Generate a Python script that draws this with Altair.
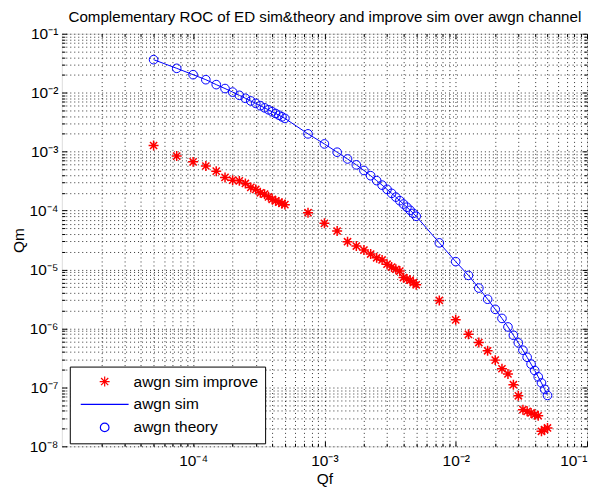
import altair as alt
import pandas as pd

# ---------------- data ----------------
qf = [
    5.0e-5, 7.5e-5, 1.0e-4, 1.25e-4, 1.5e-4, 1.75e-4, 2.0e-4, 2.25e-4, 2.5e-4, 2.75e-4,
    3.0e-4, 3.25e-4, 3.5e-4, 3.75e-4, 4.0e-4, 4.25e-4, 4.5e-4, 4.75e-4, 5.0e-4,
    7.5e-4, 1.0e-3, 1.25e-3, 1.5e-3, 1.75e-3, 2.0e-3, 2.25e-3, 2.5e-3, 2.75e-3,
    3.0e-3, 3.25e-3, 3.5e-3, 3.75e-3, 4.0e-3, 4.25e-3, 4.5e-3, 4.75e-3, 5.0e-3,
    7.5e-3, 1.0e-2, 1.25e-2, 1.5e-2, 1.75e-2, 2.0e-2, 2.25e-2, 2.5e-2, 2.75e-2,
    3.0e-2, 3.25e-2, 3.5e-2, 3.75e-2, 4.0e-2, 4.25e-2, 4.5e-2, 4.75e-2, 5.0e-2,
]

qm_improve = [
    1.27e-3, 8.4e-4, 6.7e-4, 5.7e-4, 4.66e-4, 3.65e-4, 3.28e-4, 3.19e-4, 2.88e-4, 2.47e-4,
    2.28e-4, 2.0e-4, 1.9e-4, 1.71e-4, 1.55e-4, 1.46e-4, 1.39e-4, 1.32e-4, 1.26e-4,
    9.2e-5, 6.07e-5, 4.5e-5, 2.96e-5, 2.5e-5, 2.14e-5, 1.83e-5, 1.58e-5, 1.45e-5,
    1.23e-5, 1.1e-5, 1.01e-5, 9.4e-6, 7.3e-6, 6.9e-6, 6.6e-6, 6.0e-6, 5.5e-6,
    2.99e-6, 1.4e-6, 7.94e-7, 5.77e-7, 4.18e-7, 2.9e-7, 2.07e-7, 1.69e-7, 1.11e-7,
    7.2e-8, 4.19e-8, 3.92e-8, 3.68e-8, 3.44e-8, 3.3e-8, 1.8e-8, 1.92e-8, 2.05e-8,
]

qm_sim = [
    0.0363, 0.0259, 0.0202, 0.0166, 0.0137, 0.01175, 0.01023, 0.00902, 0.00804, 0.00724,
    0.00658, 0.00601, 0.00553, 0.00512, 0.00475, 0.00444, 0.00415, 0.00389, 0.00366,
    0.0020, 0.00135, 0.000977, 0.00075, 0.000596, 0.000479, 0.00039, 0.000322, 0.00027,
    0.000229, 0.000196, 0.000169, 0.000147, 0.000129, 0.000114, 0.000101, 8.95e-5, 8.0e-5,
    2.83e-5, 1.36e-5, 7.94e-6, 4.84e-6, 3.13e-6, 2.11e-6, 1.48e-6, 1.06e-6, 7.67e-7,
    5.69e-7, 4.27e-7, 3.24e-7, 2.48e-7, 1.93e-7, 1.51e-7, 1.19e-7, 9.3e-8, 7.3e-8,
]

qm_theory = [
    0.0363, 0.0259, 0.0202, 0.0166, 0.0137, 0.01175, 0.01023, 0.00902, 0.00804, 0.00724,
    0.00658, 0.00601, 0.00553, 0.00512, 0.00475, 0.00444, 0.00415, 0.00389, 0.00366,
    0.0020, 0.00135, 0.000977, 0.00075, 0.000596, 0.000479, 0.00039, 0.000322, 0.00027,
    0.000229, 0.000196, 0.000169, 0.000147, 0.000129, 0.000114, 0.000101, 8.95e-5, 8.0e-5,
    2.83e-5, 1.36e-5, 7.94e-6, 4.84e-6, 3.13e-6, 2.11e-6, 1.48e-6, 1.06e-6, 7.67e-7,
    5.69e-7, 4.27e-7, 3.24e-7, 2.48e-7, 1.93e-7, 1.51e-7, 1.19e-7, 9.3e-8, 7.3e-8,
]

series_names = ["awgn sim improve", "awgn sim", "awgn theory"]
series_colors = ["#ff0000", "#0000ff", "#0000ff"]

x_decades = [-5, -4, -3, -2]
y_decades = [-8, -7, -6, -5, -4, -3, -2]

title_text = "Complementary ROC of ED sim&theory and improve sim over awgn channel"

# ---------------- table ----------------
rows = []
for name, ys in zip(series_names, [qm_improve, qm_sim, qm_theory]):
    for i, (xv, yv) in enumerate(zip(qf, ys)):
        rows.append({"qf": xv, "qm": yv, "series": name, "order": i})
df = pd.DataFrame(rows)

# tick positions: 2..9 x 10^e plus every power of ten inside the domain
x_ticks = [m * 10.0 ** e for e in x_decades for m in range(1, 10)][1:] + [0.1]
y_ticks = [m * 10.0 ** e for e in y_decades for m in range(1, 10)] + [0.1]

W, H = 527, 414
FONT = "Liberation Sans"
FS = 15.5
STAR = "M-1,0L1,0M0,-1L0,1M-0.72,-0.72L0.72,0.72M-0.72,0.72L0.72,-0.72"

EXP = "round(log(datum.value)/LN10)"
MAJOR = f"abs(log(datum.value)/LN10 - {EXP}) < 0.001"
SUPS = "['\u2070','\u207b\u00b9','\u207b\u00b2','\u207b\u00b3','\u207b\u2074','\u207b\u2075','\u207b\u2076','\u207b\u2077','\u207b\u2078']"
LABEL_EXPR = f"{MAJOR} ? '10' + {SUPS}[-{EXP}] : ''"

xscale = alt.Scale(type="log", domain=[1e-5, 1e-1], nice=False)
yscale = alt.Scale(type="log", domain=[1e-8, 1e-1], nice=False)

tick_size = {"condition": {"test": MAJOR, "value": 5}, "value": 3}


def tick_axis(orient, values, offset):
    return alt.Axis(orient=orient, offset=offset, values=values, labels=False,
                    grid=False, domain=False, ticks=True, tickSize=tick_size,
                    tickColor="#000", tickWidth=1, title=None)


GRID = dict(grid=True, gridDash=[1, 3], gridColor="#000", gridOpacity=0.8, gridWidth=1)

main_x_axis = alt.Axis(orient="bottom", values=x_ticks, **GRID,
                       ticks=False, tickSize=0, domain=False, labelExpr=LABEL_EXPR,
                       labelOverlap=False, labelFont=FONT, labelFontSize=FS,
                       labelColor="#000", labelPadding=7, title="Qf",
                       titleFont=FONT, titleFontSize=FS, titleFontWeight="normal",
                       titleColor="#000", titlePadding=3)
main_y_axis = alt.Axis(orient="left", values=y_ticks, **GRID,
                       ticks=False, tickSize=0, domain=False, labelExpr=LABEL_EXPR,
                       labelOverlap=False, labelFont=FONT, labelFontSize=FS,
                       labelColor="#000", labelPadding=4, labelBaseline="middle",
                       title="Qm", titleFont=FONT, titleFontSize=FS,
                       titleFontWeight="normal", titleColor="#000", titlePadding=3)

title_axis = alt.Axis(orient="top", offset=0, labels=False, ticks=False, grid=False,
                      domain=False, minExtent=0, maxExtent=0, title=title_text,
                      titleFont=FONT, titleFontSize=15.2, titleFontWeight="normal",
                      titleColor="#000", titleBaseline="alphabetic", titlePadding=12,
                      titleAnchor="middle", titleLimit=600)

legend = alt.Legend(
    title=None, orient="none", legendX=8, legendY=334, padding=7,
    strokeColor="#000", fillColor="#fff", cornerRadius=0,
    labelFont=FONT, labelFontSize=FS, labelColor="#000", labelLimit=400,
    symbolOffset=3, labelOffset=4, rowPadding=6, clipHeight=16,
    symbolStrokeWidth=1.2, symbolFillColor="transparent",
)

color = alt.Color("series:N", scale=alt.Scale(domain=series_names, range=series_colors),
                  legend=legend)
shape = alt.Shape("series:N", scale=alt.Scale(domain=series_names,
                                              range=[STAR, "stroke", "circle"]),
                  legend=legend)
size = alt.Size("series:N", scale=alt.Scale(type="ordinal", domain=series_names,
                                            range=[100, 2304, 75]),
                legend=legend)

base = alt.Chart(df)

stars = base.transform_filter(alt.datum.series == series_names[0]).mark_point(
    filled=False, strokeWidth=1.5, opacity=1
).encode(
    x=alt.X("qf:Q", scale=xscale, axis=main_x_axis),
    y=alt.Y("qm:Q", scale=yscale, axis=main_y_axis),
    color=color, shape=shape, size=size,
)

line = base.transform_filter(alt.datum.series == series_names[1]).mark_line(
    strokeWidth=1
).encode(
    x=alt.X("qf:Q", scale=xscale, axis=tick_axis("top", x_ticks, -H)),
    y=alt.Y("qm:Q", scale=yscale, axis=tick_axis("right", y_ticks, -W)),
    order="order:Q",
    color=color,
)

circles = base.transform_filter(alt.datum.series == series_names[2]).mark_point(
    filled=False, strokeWidth=1, opacity=1
).encode(
    x=alt.X("qf:Q", scale=xscale, axis=tick_axis("bottom", x_ticks, -H)),
    y=alt.Y("qm:Q", scale=yscale, axis=tick_axis("left", y_ticks, -W)),
    color=color, shape=shape, size=size,
)

# invisible layer that only carries the chart title as a top axis title
title_layer = base.transform_filter(alt.datum.series == series_names[2]).mark_point(
    opacity=0
).encode(
    x=alt.X("qf:Q", scale=xscale, axis=title_axis),
    y=alt.Y("qm:Q", scale=yscale, axis=None),
)

chart = alt.layer(stars, line, circles, title_layer).resolve_axis(
    x="independent", y="independent"
).properties(
    width=W, height=H,
    autosize=alt.AutoSizeParams(type="none"),
    padding={"left": 54, "top": 25, "right": 4, "bottom": 40},
).configure_view(stroke="#000", strokeWidth=1).configure(background="#fff")

chart.save("out.html", embed_options={"renderer": "svg", "actions": False})
